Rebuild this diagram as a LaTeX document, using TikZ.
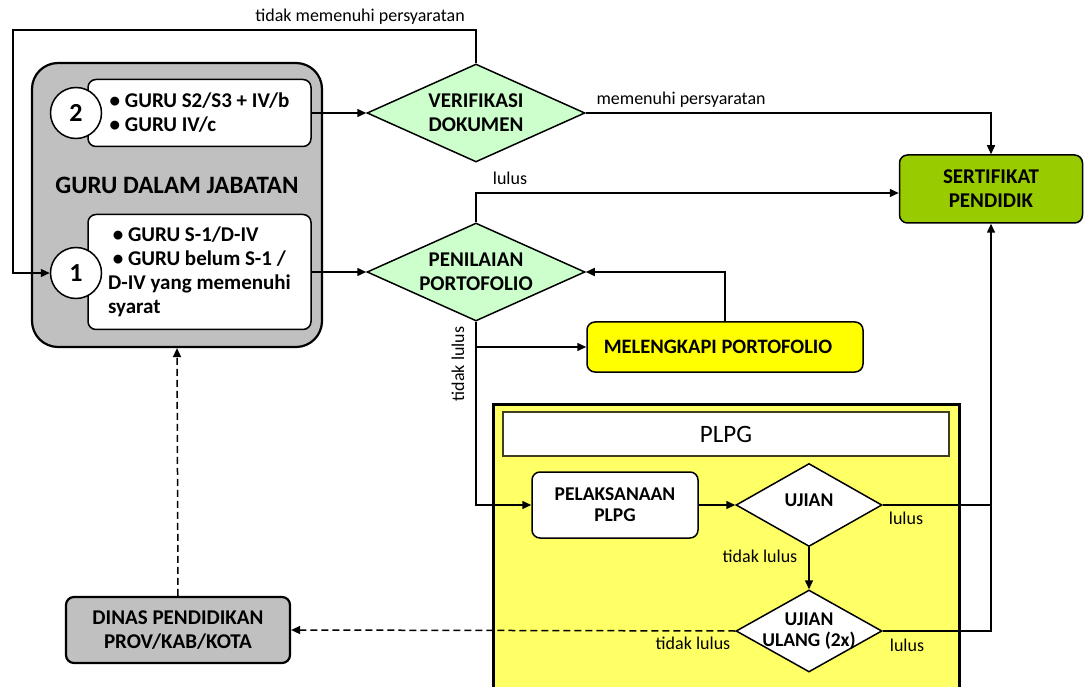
\documentclass[tikz,border=0pt]{standalone}
\usepackage{fontspec}
\setmainfont{Carlito}
\usepackage{xcolor}
\usepackage{tikz}
\usetikzlibrary{shapes.geometric, arrows.meta, positioning, calc}
\definecolor{gurugray}{HTML}{C0C0C0}
\definecolor{checkgreen}{HTML}{CCFFCC}
\definecolor{certgreen}{HTML}{99CC00}
\definecolor{fixyellow}{HTML}{FFFF00}
\definecolor{plpgyellow}{HTML}{FFFF66}
\definecolor{headline}{HTML}{3F3F1F}

\tikzset{
  boldlabel/.style={font=\fontsize{21}{24}\selectfont\bfseries},
  plpglabel/.style={font=\fontsize{19.5}{21}\selectfont\bfseries},
  smalllabel/.style={font=\fontsize{18}{18}\selectfont},
  flow/.style={line width=1.5pt, -{Triangle[length=9pt,width=8pt]}},
  plainflow/.style={line width=1.5pt},
  dashflow/.style={line width=1.5pt, dash pattern=on 7pt off 4pt, -{Triangle[length=9pt,width=8pt]}},
  listbox/.style={draw, fill=white, line width=1.5pt, rounded corners=8pt, align=left, boldlabel, minimum width=223pt},
  numcircle/.style={draw, fill=white, circle, line width=1.5pt, minimum size=51pt, inner sep=0pt, font=\fontsize{26}{26}\selectfont\bfseries},
  checkdiamond/.style={draw, diamond, line width=1.5pt, inner sep=0pt, aspect=2.2, align=center, boldlabel},
  stepbox/.style={draw, line width=1.5pt, rounded corners=8pt, align=center, boldlabel}
}

\begin{document}
\begin{tikzpicture}[x=1pt, y=-1pt]
  \useasboundingbox (0,0) rectangle (1088,687);

  % Guru dalam jabatan group
  \node[draw, fill=gurugray, line width=2.2pt, rounded corners=26pt, minimum width=290pt, minimum height=284pt] (guru) at (177,205) {};
  \node[font=\fontsize{25}{25}\selectfont\bfseries] (gurutitle) at (177,185) {GURU DALAM JABATAN};
  \node[listbox, minimum height=67pt] (grp2) at (199.5,113) {\textbullet\ GURU S2/S3 + IV/b\\\textbullet\ GURU IV/c};
  \node[listbox, minimum height=115pt] (grp1) at (199.5,272) {\ \textbullet\ GURU S-1/D-IV\\\ \textbullet\ GURU belum S-1 /\\D-IV yang memenuhi\\syarat};
  \node[numcircle] (circ2) at (76,113) {2};
  \node[numcircle] (circ1) at (76,273) {1};

  % Checks
  \node[checkdiamond, fill=checkgreen, minimum width=218pt, minimum height=98pt] (verif) at (476,113) {VERIFIKASI\\DOKUMEN};
  \node[checkdiamond, fill=checkgreen, minimum width=218pt, minimum height=98pt] (penil) at (476,272) {PENILAIAN\\PORTOFOLIO};

  % Certificate and portfolio fix
  \node[stepbox, fill=certgreen, minimum width=183pt, minimum height=68pt] (sert) at (991,189) {SERTIFIKAT\\PENDIDIK};
  \node[stepbox, fill=fixyellow, minimum width=276pt, minimum height=50pt, font=\fontsize{20.5}{24}\selectfont\bfseries] (fix) at (725,347) {MELENGKAPI PORTOFOLIO\kern14pt};

  % PLPG block
  \node[draw, fill=plpgyellow, line width=3pt, minimum width=466pt, minimum height=320pt] (plpg) at (726,564) {};
  \node[draw=headline, fill=white, line width=1.2pt, minimum width=446pt, minimum height=44pt, font=\fontsize{25}{25}\selectfont] (plpghead) at (726,434) {PLPG};
  \node[stepbox, plpglabel, fill=white, minimum width=166pt, minimum height=66pt] (pelak) at (615,505) {PELAKSANAAN\\PLPG};
  \node[checkdiamond, plpglabel, fill=white, minimum width=146pt, minimum height=83pt] (ujian) at (809,505) {\raisebox{10pt}{UJIAN}};
  \node[checkdiamond, plpglabel, fill=white, inner sep=-10pt, aspect=2, minimum width=146pt, minimum height=82pt] (ulang) at (809,631) {UJIAN\\ULANG (2x)};

  % Dinas
  \node[stepbox, fill=gurugray, line width=2.2pt, minimum width=224pt, minimum height=66pt] (dinas) at (178,630) {DINAS PENDIDIKAN\\PROV/KAB/KOTA};

  % Connectors
  \coordinate (loopcorner) at (13,30);
  \draw[flow] (grp2.east) -- (verif.west);
  \draw[flow] (grp1.east) -- (penil.west);
  \draw[flow] (verif.north) |- (loopcorner) |- (circ1.west);
  \draw[flow] (verif.east) -| (sert.north);
  \draw[flow] (penil.north) |- ([yshift=-4pt]sert.west);
  \draw[flow] (fix.north) |- (penil.east);
  \draw[flow] (penil.south) |- (fix.west);
  \draw[flow] (penil.south) |- (pelak.west);
  \draw[flow] (pelak.east) -- (ujian.west);
  \draw[flow] (ujian.east) -| (sert.south);
  \draw[flow] (ujian.south) -- (ulang.north);
  \draw[plainflow] (ulang.east) -| (ujian.east -| sert.south);
  \draw[dashflow] (ulang.west) -- (dinas.east);
  \draw[dashflow] (dinas.north) -- (guru.south);

  % Connector labels
  \node[smalllabel] (lblnot) at (360,17) {tidak memenuhi persyaratan};
  \node[smalllabel, anchor=west] (lblmeet) at (593,100) {memenuhi persyaratan};
  \node[smalllabel] (lblpass1) at (510,178) {lulus};
  \node[smalllabel, rotate=90] (lblfail1) at (458,364) {tidak lulus};
  \node[smalllabel] (lblpass2) at (906,518) {lulus};
  \node[smalllabel] (lblfail2) at (760,556) {tidak lulus};
  \node[smalllabel] (lblpass3) at (907,645) {lulus};
  \node[smalllabel] (lblfail3) at (693,643) {tidak lulus};
\end{tikzpicture}
\end{document}
